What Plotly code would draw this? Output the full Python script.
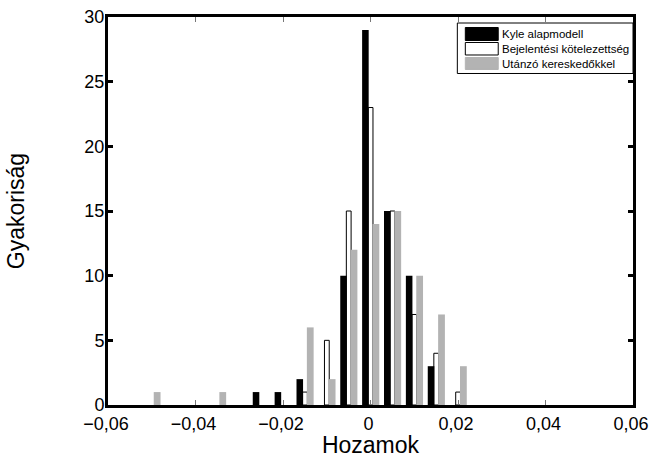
import plotly.graph_objects as go

# Bin centres (Hozamok)
bins = [-0.05, -0.045, -0.04, -0.035, -0.03, -0.025, -0.02, -0.015,
        -0.01, -0.005, 0.0, 0.005, 0.01, 0.015, 0.02]
kyle = [0, 0, 0, 0, 0, 1, 1, 2, 0, 10, 29, 15, 10, 3, 0]
bejelentesi = [0, 0, 0, 0, 0, 0, 0, 1, 5, 15, 23, 15, 7, 4, 1]
utanzo = [1, 0, 0, 1, 0, 0, 0, 6, 2, 12, 14, 15, 10, 7, 3]

series_names = ["Kyle alapmodell", "Bejelentési kötelezettség", "Utánzó kereskedőkkel"]

x_tickvals = [-0.06, -0.04, -0.02, 0, 0.02, 0.04, 0.06]
x_ticktext = ["−0,06", "−0,04", "−0,02", "0", "0,02", "0,04", "0,06"]
y_tickvals = [0, 5, 10, 15, 20, 25, 30]

GRAY = "#b3b3b3"
FONT = "Liberation Sans, Arial, sans-serif"


def nz(vals):
    # empty bins are not drawn
    return [v if v else None for v in vals]


fig = go.Figure()
fig.add_trace(go.Bar(x=bins, y=nz(bejelentesi), name=series_names[1],
                     offset=-0.000524, width=0.00109,
                     marker=dict(color="white", line=dict(color="black", width=1))))
fig.add_trace(go.Bar(x=bins, y=nz(kyle), name=series_names[0],
                     offset=-0.001915, width=0.00150,
                     marker=dict(color="black", line=dict(width=0))))
fig.add_trace(go.Bar(x=bins, y=nz(utanzo), name=series_names[2],
                     offset=0.000456, width=0.00155,
                     marker=dict(color=GRAY, line=dict(width=0))))

fig.update_layout(
    width=649, height=458,
    margin=dict(l=108, r=16, t=17, b=53, autoexpand=False),
    barmode="overlay",
    showlegend=False,
    paper_bgcolor="white", plot_bgcolor="white",
    font=dict(family=FONT, color="black", size=18),
)
fig.update_xaxes(
    range=[-0.06, 0.06], tickvals=x_tickvals, ticktext=x_ticktext,
    ticks="inside", ticklen=5, tickwidth=1, tickcolor="#777777",
    showline=True, linewidth=3, linecolor="black", mirror="ticks",
    showgrid=False, zeroline=False, ticklabelstandoff=0, ticklabelshift=-2,
    ticklabeloverflow="allow", automargin=False,
    tickfont=dict(size=18),
    title=dict(text="Hozamok", font=dict(size=23), standoff=22),
)
fig.update_yaxes(
    range=[0, 30], tickvals=y_tickvals,
    ticks="inside", ticklen=5, tickwidth=3, tickcolor="black",
    showline=True, linewidth=3, linecolor="black", mirror="ticks",
    showgrid=False, zeroline=False, ticklabelstandoff=-3,
    automargin=False,
    tickfont=dict(size=18),
    title=dict(text="Gyakoriság", font=dict(size=23), standoff=54),
)

# Legend drawn as box with swatches (paper coordinates)
shapes = [dict(type="rect", xref="paper", yref="paper", x0=0.6654, x1=1.0,
               y0=0.8544, y1=0.9845, line=dict(color="black", width=1),
               fillcolor="white", layer="above")]
rows = [(0.9729, 0.9394, "black", "black"),
        (0.9343, 0.9021, "white", "black"),
        (0.8956, 0.8647, GRAY, GRAY)]
for (y1, y0, fc, lc), name in zip(rows, series_names):
    shapes.append(dict(type="rect", xref="paper", yref="paper", x0=0.6806, x1=0.7433,
                       y0=y0, y1=y1, fillcolor=fc, line=dict(color=lc, width=1),
                       layer="above"))
fig.update_layout(shapes=shapes)
for (y1, y0, fc, lc), name in zip(rows, series_names):
    fig.add_annotation(xref="paper", yref="paper", x=0.7471, y=(y0 + y1) / 2,
                       text=name, showarrow=False, xanchor="left", yanchor="middle",
                       font=dict(family=FONT, size=11.5, color="black"))

fig.write_html("out.html", config={"displayModeBar": False},
               post_script="document.body.style.margin='0px';document.body.style.overflow='hidden';")
